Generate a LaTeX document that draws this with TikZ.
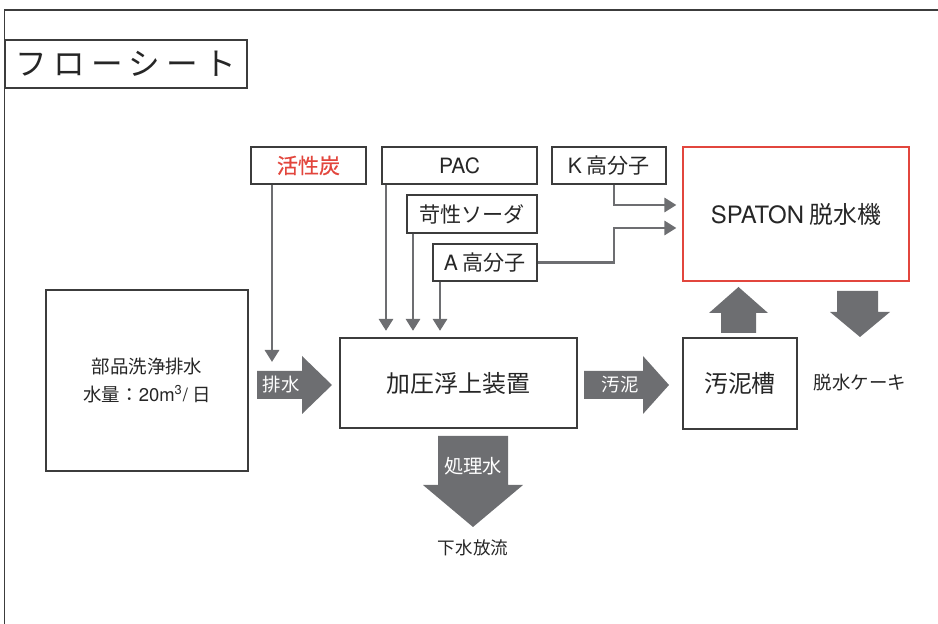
\documentclass[tikz,border=0pt]{standalone}
\usepackage{fontspec}
\setmainfont{Noto Sans CJK JP}
\newfontfamily\titlefont[LetterSpace=20]{Noto Sans CJK JP}
\newfontfamily\redfont[FakeBold=0.6]{Noto Sans CJK JP}
\newfontfamily\latin{TeX Gyre Heros}
\usetikzlibrary{arrows.meta}
\definecolor{flowgray}{HTML}{6D6E71}
\definecolor{boxred}{HTML}{E2463D}
\definecolor{linegray}{HTML}{3C3C3C}

\begin{document}
\begin{tikzpicture}[x=0.02cm, y=-0.02cm,
  box/.style={draw=linegray, line width=0.7pt, inner sep=0pt, text=black!85, font=\fontsize{12}{14}\selectfont},
  redbox/.style={box, draw=boxred},
  feed/.style={draw=flowgray, line width=1.7pt, -{Triangle[width=0.28cm, length=0.24cm]}},
  flow/.style={fill=flowgray},
  flowlabel/.style={text=white, font=\fontsize{10.5}{12}\selectfont},
  plain/.style={text=black!85, font=\fontsize{10.5}{12}\selectfont},
  frame/.style={draw=linegray, line width=0.7pt}]
    \useasboundingbox (0,0) rectangle (938,624);

        % Nodes
        \node (title) [box, minimum width=4.84cm, minimum height=0.96cm, font=\titlefont\fontsize{18}{20}\selectfont] at (126,64) {フローシート};
        \node (carbon) [box, minimum width=2.30cm, minimum height=0.74cm, text=boxred, font=\redfont\fontsize{12}{14}\selectfont] at (308.5,165.5) {活性炭};
        \node (pac) [box, minimum width=3.10cm, minimum height=0.74cm] at (459.5,165.5) {\latin PAC};
        \node (kpoly) [box, minimum width=2.28cm, minimum height=0.74cm] at (609,165.5) {{\latin K} 高分子};
        \node (soda) [box, minimum width=2.60cm, minimum height=0.76cm] at (472,214) {苛性ソーダ};
        \node (apoly) [box, minimum width=2.08cm, minimum height=0.74cm] at (485,262.5) {{\latin A} 高分子};
        \node (spaton) [redbox, minimum width=4.52cm, minimum height=2.68cm, font=\fontsize{13.6}{16}\selectfont] at (796,214) {{\latin SPATON} 脱水機};
        \node (source) [box, minimum width=4.04cm, minimum height=3.62cm, align=center, font=\fontsize{10.5}{16}\selectfont] at (147,380.5) {部品洗浄排水\\水量：{\latin 20m\textsuperscript{3}/} 日};
        \node (daf) [box, minimum width=4.74cm, minimum height=1.80cm, font=\fontsize{13.6}{16}\selectfont] at (458.5,383) {加圧浮上装置};
        \node (tank) [box, minimum width=2.28cm, minimum height=1.82cm, font=\fontsize{13.6}{16}\selectfont] at (740,383.5) {汚泥槽};
        \node (cake) [plain] at (860,383) {脱水ケーキ};
        \node (sewer) [plain, font=\fontsize{10}{12}\selectfont] at (473,548) {下水放流};

        % Frame
        \coordinate (frametop) at (938,10);
        \coordinate (framebottom) at (5,624);
        \draw[frame] (frametop) -- (frametop -| title.west) -- (title.north west);
        \draw[frame] (title.south west) -- (title.south west |- framebottom);

        % Block arrows
        \fill[flow] (257,371) -- (302,371) -- (302,356) -- (332,385) -- (302,414) -- (302,399) -- (257,399) -- cycle;
        \fill[flow] (584,371) -- (643,371) -- (643,356) -- (669,385) -- (643,414) -- (643,399) -- (584,399) -- cycle;
        \fill[flow] (438,436) -- (508,436) -- (508,485) -- (523,485) -- (473,527) -- (423,485) -- (438,485) -- cycle;
        \fill[flow] (721,333) -- (721,313) -- (709,313) -- (738.5,287) -- (768,313) -- (756,313) -- (756,333) -- cycle;
        \fill[flow] (837,291) -- (878,291) -- (878,312) -- (890,312) -- (860,337) -- (830,312) -- (837,312) -- cycle;
        \node (drain) [flowlabel] at (281,385) {排水};
        \node (sludge) [flowlabel] at (620,385) {汚泥};
        \node (treated) [flowlabel, font=\fontsize{11}{12}\selectfont] at (473,466) {処理水};

        % Edges
        \coordinate (cx) at (272,362);
        \coordinate (pacx) at (386,0);
        \coordinate (sodax) at (413,0);
        \coordinate (apolyx) at (440,0);
        \coordinate (kx) at (614,205);
        \coordinate (ax) at (614,228);
        \draw[feed] (carbon.south -| cx) -- (cx);
        \draw[feed, shorten >=0.13cm] (pac.south -| pacx) -- (daf.north -| pacx);
        \draw[feed, shorten >=0.13cm] (soda.south -| sodax) -- (daf.north -| sodax);
        \draw[feed, shorten >=0.13cm] (apoly.south -| apolyx) -- (daf.north -| apolyx);
        \draw[feed, shorten >=0.12cm] (kpoly.south -| kx) |- (spaton.west |- kx);
        \draw[feed, shorten >=0.12cm] (apoly.east) -| (ax) -- (spaton.west |- ax);

    \end{tikzpicture}
\end{document}
